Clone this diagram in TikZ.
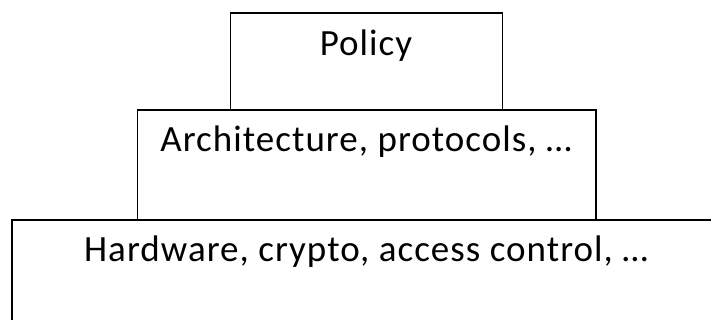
\documentclass[tikz,border=0pt]{standalone}
\usepackage{fontspec}
\setmainfont{Carlito}
\begin{document}
\begin{tikzpicture}[x=1pt,y=1pt,
  layer/.style={draw=black,line width=1.6pt,fill=white,inner sep=0pt,minimum width=#1},
  caption/.style={anchor=base,inner sep=0pt,
    font=\fontsize{37}{44}\selectfont\addfontfeatures{LetterSpace=2.8}}]
\useasboundingbox (0,0) rectangle (711,320);
\clip (0,0) rectangle (711,320);
% bottom layer (extends past the frame)
\node[layer=710pt,minimum height=111pt,anchor=north west] (hw) at (11,101) {};
% middle layer
\node[layer=458.3pt,minimum height=110pt,anchor=north west] (arch) at (136.7,211) {};
% top layer
\node[layer=272pt,minimum height=96.7pt,anchor=north west] (pol) at (229.7,307.7) {};
% captions
\node[caption] (polt) at (366,264.3) {Policy};
\node[caption] (archt) at (366,168.3) {Architecture, protocols, …};
\node[caption] (hwt) at (366,58.3) {Hardware, crypto, access control, …};
\end{tikzpicture}
\end{document}
